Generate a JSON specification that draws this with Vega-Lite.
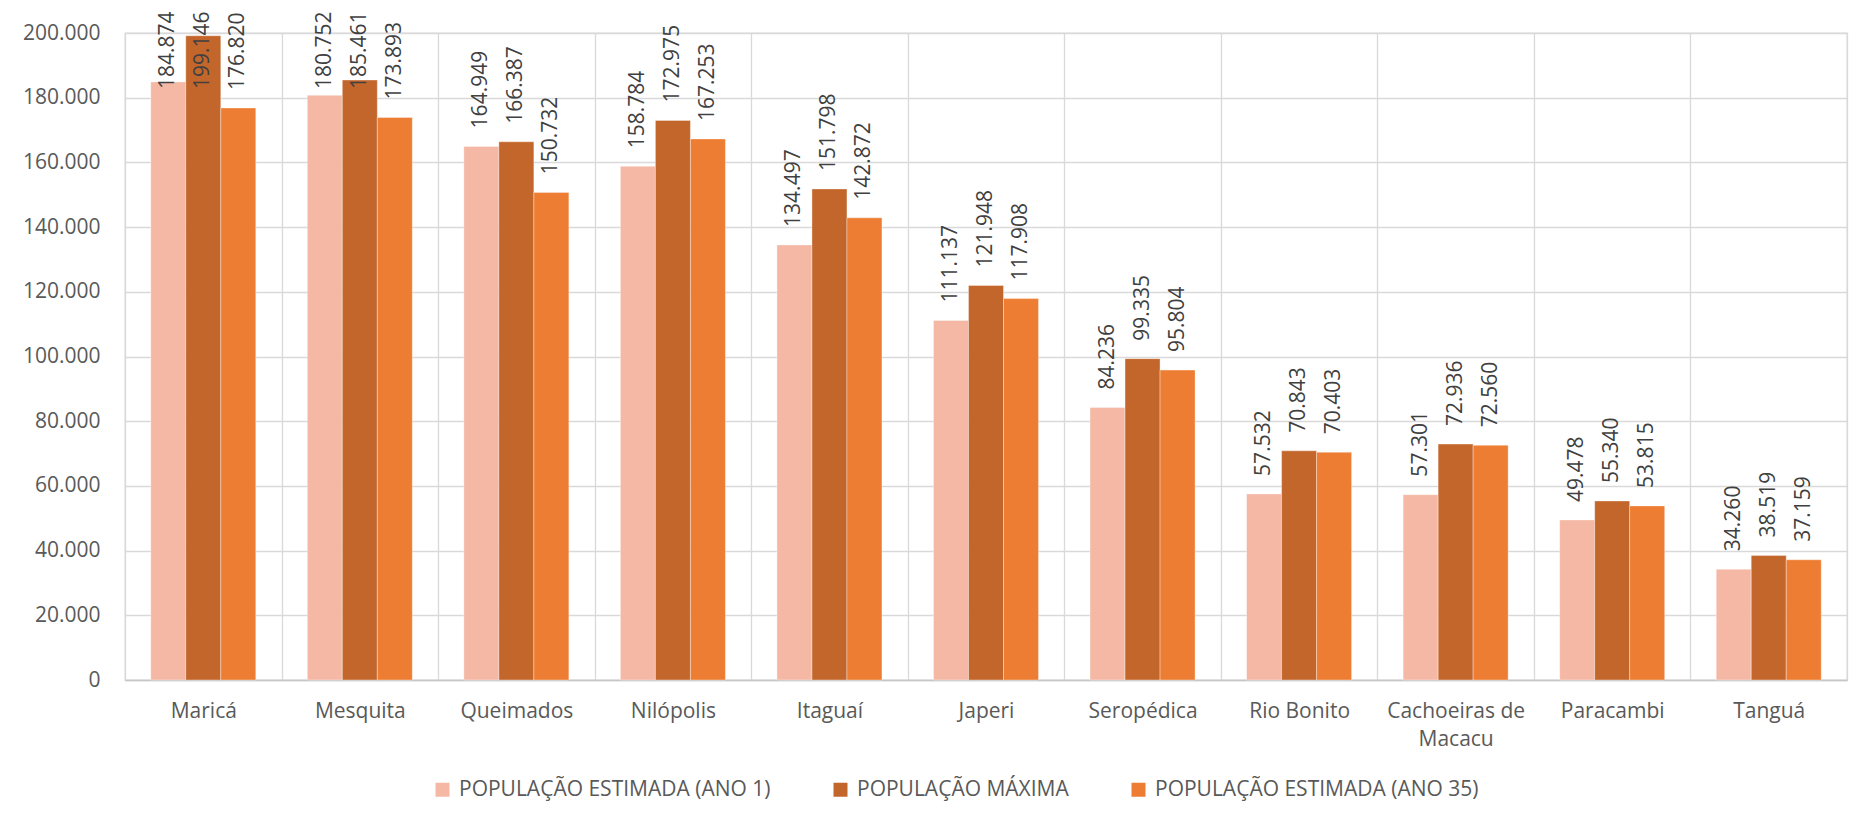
{
  "$schema": "https://vega.github.io/schema/vega-lite/v6.json",
  "autosize": "none",
  "width": 1722,
  "height": 647,
  "padding": {"left": 125, "top": 33, "right": 18, "bottom": 153},
  "background": "#ffffff",
  "data": {
    "values": [
      {"municipio": "Maricá", "serie": "POPULAÇÃO ESTIMADA (ANO 1)", "valor": 184874},
      {"municipio": "Maricá", "serie": "POPULAÇÃO MÁXIMA", "valor": 199146},
      {"municipio": "Maricá", "serie": "POPULAÇÃO ESTIMADA (ANO 35)", "valor": 176820},
      {"municipio": "Mesquita", "serie": "POPULAÇÃO ESTIMADA (ANO 1)", "valor": 180752},
      {"municipio": "Mesquita", "serie": "POPULAÇÃO MÁXIMA", "valor": 185461},
      {"municipio": "Mesquita", "serie": "POPULAÇÃO ESTIMADA (ANO 35)", "valor": 173893},
      {"municipio": "Queimados", "serie": "POPULAÇÃO ESTIMADA (ANO 1)", "valor": 164949},
      {"municipio": "Queimados", "serie": "POPULAÇÃO MÁXIMA", "valor": 166387},
      {"municipio": "Queimados", "serie": "POPULAÇÃO ESTIMADA (ANO 35)", "valor": 150732},
      {"municipio": "Nilópolis", "serie": "POPULAÇÃO ESTIMADA (ANO 1)", "valor": 158784},
      {"municipio": "Nilópolis", "serie": "POPULAÇÃO MÁXIMA", "valor": 172975},
      {"municipio": "Nilópolis", "serie": "POPULAÇÃO ESTIMADA (ANO 35)", "valor": 167253},
      {"municipio": "Itaguaí", "serie": "POPULAÇÃO ESTIMADA (ANO 1)", "valor": 134497},
      {"municipio": "Itaguaí", "serie": "POPULAÇÃO MÁXIMA", "valor": 151798},
      {"municipio": "Itaguaí", "serie": "POPULAÇÃO ESTIMADA (ANO 35)", "valor": 142872},
      {"municipio": "Japeri", "serie": "POPULAÇÃO ESTIMADA (ANO 1)", "valor": 111137},
      {"municipio": "Japeri", "serie": "POPULAÇÃO MÁXIMA", "valor": 121948},
      {"municipio": "Japeri", "serie": "POPULAÇÃO ESTIMADA (ANO 35)", "valor": 117908},
      {"municipio": "Seropédica", "serie": "POPULAÇÃO ESTIMADA (ANO 1)", "valor": 84236},
      {"municipio": "Seropédica", "serie": "POPULAÇÃO MÁXIMA", "valor": 99335},
      {"municipio": "Seropédica", "serie": "POPULAÇÃO ESTIMADA (ANO 35)", "valor": 95804},
      {"municipio": "Rio Bonito", "serie": "POPULAÇÃO ESTIMADA (ANO 1)", "valor": 57532},
      {"municipio": "Rio Bonito", "serie": "POPULAÇÃO MÁXIMA", "valor": 70843},
      {"municipio": "Rio Bonito", "serie": "POPULAÇÃO ESTIMADA (ANO 35)", "valor": 70403},
      {"municipio": "Cachoeiras de Macacu", "serie": "POPULAÇÃO ESTIMADA (ANO 1)", "valor": 57301},
      {"municipio": "Cachoeiras de Macacu", "serie": "POPULAÇÃO MÁXIMA", "valor": 72936},
      {"municipio": "Cachoeiras de Macacu", "serie": "POPULAÇÃO ESTIMADA (ANO 35)", "valor": 72560},
      {"municipio": "Paracambi", "serie": "POPULAÇÃO ESTIMADA (ANO 1)", "valor": 49478},
      {"municipio": "Paracambi", "serie": "POPULAÇÃO MÁXIMA", "valor": 55340},
      {"municipio": "Paracambi", "serie": "POPULAÇÃO ESTIMADA (ANO 35)", "valor": 53815},
      {"municipio": "Tanguá", "serie": "POPULAÇÃO ESTIMADA (ANO 1)", "valor": 34260},
      {"municipio": "Tanguá", "serie": "POPULAÇÃO MÁXIMA", "valor": 38519},
      {"municipio": "Tanguá", "serie": "POPULAÇÃO ESTIMADA (ANO 35)", "valor": 37159}
    ]
  },
  "encoding": {
    "x": {
      "field": "municipio",
      "type": "nominal",
      "sort": null,
      "title": null,
      "scale": {"paddingInner": 0, "paddingOuter": 0},
      "axis": {
        "tickBand": "extent",
        "grid": true,
        "gridColor": "#d9d9d9",
        "gridWidth": 1.3,
        "ticks": false,
        "domain": true,
        "domainColor": "#c6c6c6",
        "domainWidth": 1.3,
        "labelAngle": 0,
        "labelPadding": 20,
        "labelFontSize": 21,
        "labelLineHeight": 28,
        "labelColor": "#595959",
        "labelFont": "Open Sans",
        "labelLimit": 300,
        "labelExpr": "datum.label == 'Cachoeiras de Macacu' ? ['Cachoeiras de', 'Macacu'] : datum.label"
      }
    },
    "xOffset": {
      "field": "serie",
      "type": "nominal",
      "sort": ["POPULAÇÃO ESTIMADA (ANO 1)", "POPULAÇÃO MÁXIMA", "POPULAÇÃO ESTIMADA (ANO 35)"],
      "scale": {"paddingInner": 0, "paddingOuter": 0.736}
    }
  },
  "layer": [
    {
      "mark": {"type": "bar", "stroke": "#ffffff", "strokeWidth": 0.6, "strokeOpacity": 0.6},
      "encoding": {
        "y": {
          "field": "valor",
          "type": "quantitative",
          "title": null,
          "scale": {"domain": [0, 200000], "nice": false},
          "axis": {
            "tickCount": 10,
            "format": ",d",
            "grid": true,
            "gridColor": "#d9d9d9",
            "gridWidth": 1.3,
            "ticks": false,
            "domain": false,
            "labelPadding": 25,
            "labelFontSize": 21,
            "labelColor": "#595959",
            "labelFont": "Open Sans"
          }
        },
        "color": {
          "field": "serie",
          "type": "nominal",
          "title": null,
          "sort": ["POPULAÇÃO ESTIMADA (ANO 1)", "POPULAÇÃO MÁXIMA", "POPULAÇÃO ESTIMADA (ANO 35)"],
          "scale": {
            "domain": ["POPULAÇÃO ESTIMADA (ANO 1)", "POPULAÇÃO MÁXIMA", "POPULAÇÃO ESTIMADA (ANO 35)"],
            "range": ["#f4b8a4", "#c3662b", "#ed7d32"]
          },
          "legend": {
            "orient": "none",
            "legendX": 307,
            "legendY": 746,
            "direction": "horizontal",
            "symbolType": "square",
            "symbolSize": 196,
            "symbolStrokeWidth": 0,
            "labelOffset": 6,
            "columnPadding": 59,
            "labelFontSize": 21,
            "labelColor": "#595959",
            "labelFont": "Open Sans",
            "labelLimit": 500
          }
        }
      }
    },
    {
      "mark": {
        "type": "text",
        "angle": 270,
        "align": "left",
        "baseline": "middle",
        "dx": 18,
        "fontSize": 21,
        "font": "Open Sans",
        "color": "#404040"
      },
      "encoding": {
        "y": {
          "field": "valor",
          "type": "quantitative",
          "axis": null,
          "scale": {"domain": [0, 177125], "range": [647, 74], "clamp": true, "nice": false, "zero": true}
        },
        "text": {"field": "valor", "type": "quantitative", "format": ",d"}
      }
    }
  ],
  "resolve": {"scale": {"y": "independent"}},
  "config": {
    "locale": {
      "number": {"decimal": ",", "thousands": ".", "grouping": [3], "currency": ["R$", ""]}
    },
    "view": {"stroke": "#d9d9d9", "strokeWidth": 1.3},
    "font": "Open Sans"
  }
}
